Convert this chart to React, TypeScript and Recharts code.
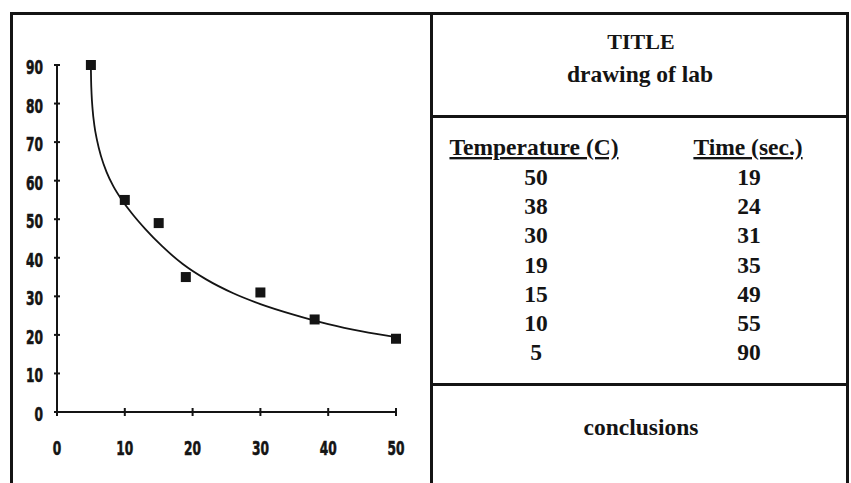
import React from "react";
import { ComposedChart, Line, Scatter, XAxis, YAxis } from "recharts";

// lab readings (as in the table)
const temperature = [50, 38, 30, 19, 15, 10, 5];
const time = [19, 24, 31, 35, 49, 55, 90];

// trend curve
const fitX = [5, 5.03, 5.1, 5.25, 5.5, 5.9, 6.5, 7.3, 8.3, 9.5, 11, 13, 15.5, 18.5, 22, 26, 30, 35, 40, 45, 50];
const fitY = [89, 86, 82.5, 78.5, 74.5, 70.5, 66.3, 62.3, 58.6, 55.2, 51.6, 47.5, 43, 38.45, 34.4, 30.8, 28, 25.2, 22.8, 20.9, 19.4];

const xTicks = [0, 10, 20, 30, 40, 50];
const yTicks = [0, 10, 20, 30, 40, 50, 60, 70, 80, 90];

const title = "TITLE";
const subtitle = "drawing of lab";
const colHeaders = ["Temperature (C)", "Time (sec.)"];
const footer = "conclusions";

const INK = "#141414";
const tickFont = "'DejaVu Sans', sans-serif";
const tableFont = "'Liberation Serif', 'DejaVu Serif', serif";

const points = temperature.map((t, i) => ({ x: t, y: time[i] }));
const curve = fitX.map((x, i) => ({ x, y: fitY[i] }));

// the old plotter font is very narrow, so squeeze the glyphs
const labelWidth = (v: number) => String(v).length * 8.5;

function XTick(props: any) {
	const { x, y, payload } = props;
	return (
		<g>
			<line x1={x} x2={x} y1={y - 4} y2={y + 4} stroke={INK} strokeWidth={2} />
			<text
				x={x}
				y={y + 43}
				textAnchor="middle"
				fontFamily={tickFont}
				fontWeight="bold"
				fontSize={19}
				fill={INK}
				stroke={INK}
				strokeWidth={0.6}
				textLength={labelWidth(payload.value)}
				lengthAdjust="spacingAndGlyphs"
			>
				{payload.value}
			</text>
		</g>
	);
}

function YTick(props: any) {
	const { x, y, payload } = props;
	return (
		<g>
			<line x1={x - 3} x2={x + 3} y1={y} y2={y} stroke={INK} strokeWidth={2} />
			<text
				x={x - 14}
				y={y + 9}
				textAnchor="end"
				fontFamily={tickFont}
				fontWeight="bold"
				fontSize={19}
				fill={INK}
				stroke={INK}
				strokeWidth={0.6}
				textLength={labelWidth(payload.value)}
				lengthAdjust="spacingAndGlyphs"
			>
				{payload.value}
			</text>
		</g>
	);
}

function Square(props: any) {
	const { cx, cy } = props;
	return <rect x={cx - 5} y={cy - 5} width={10} height={10} fill={INK} />;
}

function Frame() {
	const rowY = (i: number) => 185 + i * 29.2;
	return (
		<svg
			width={851}
			height={483}
			style={{ position: "absolute", left: 0, top: 0 }}
		>
			<rect x={11.5} y={13.5} width={836} height={500} fill="none" stroke={INK} strokeWidth={3} />
			<line x1={431.5} x2={431.5} y1={12} y2={483} stroke={INK} strokeWidth={3} />
			<line x1={431} x2={848} y1={116.5} y2={116.5} stroke={INK} strokeWidth={3} />
			<line x1={431} x2={848} y1={384.5} y2={384.5} stroke={INK} strokeWidth={3} />

			<g fontFamily={tableFont} fontWeight="bold" fontSize={23.5} fill={INK} textAnchor="middle">
				<text x={641} y={49} fontSize={22}>{title}</text>
				<text x={640} y={82}>{subtitle}</text>
				<text x={534} y={155} textDecoration="underline">{colHeaders[0]}</text>
				<text x={748} y={155} textDecoration="underline">{colHeaders[1]}</text>
				{temperature.map((t, i) => (
					<text key={`t${i}`} x={536} y={rowY(i)}>{t}</text>
				))}
				{time.map((s, i) => (
					<text key={`s${i}`} x={749} y={rowY(i)}>{s}</text>
				))}
				<text x={641} y={435}>{footer}</text>
			</g>
		</svg>
	);
}

export default function App() {
	return (
		<div
			style={{
				position: "fixed",
				left: 0,
				top: 0,
				width: 851,
				height: 483,
				background: "#fff",
				overflow: "hidden",
			}}
		>
			<Frame />
			<div style={{ position: "absolute", left: 0, top: 0 }}>
				<ComposedChart
					width={430}
					height={483}
					margin={{ top: 65, right: 34, bottom: 31, left: 0 }}
				>
					<XAxis
						type="number"
						dataKey="x"
						domain={[0, 50]}
						ticks={xTicks}
						height={40}
						axisLine={{ stroke: INK, strokeWidth: 2 }}
						tickLine={false}
						tickSize={0}
						tickMargin={0}
						tick={<XTick />}
						interval={0}
					/>
					<YAxis
						type="number"
						dataKey="y"
						domain={[0, 90]}
						ticks={yTicks}
						width={57}
						axisLine={{ stroke: INK, strokeWidth: 2 }}
						tickLine={false}
						tickSize={0}
						tickMargin={0}
						tick={<YTick />}
						interval={0}
					/>
					<Line
						data={curve}
						dataKey="y"
						type="monotone"
						stroke={INK}
						strokeWidth={1.8}
						dot={false}
						activeDot={false}
						isAnimationActive={false}
					/>
					<Scatter
						data={points}
						dataKey="y"
						shape={<Square />}
						isAnimationActive={false}
					/>
				</ComposedChart>
			</div>
		</div>
	);
}
